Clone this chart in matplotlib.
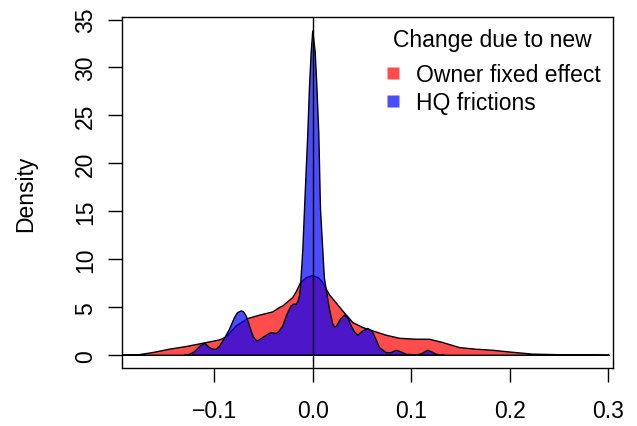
import numpy as np
import matplotlib
matplotlib.use("Agg")
import matplotlib.pyplot as plt
from matplotlib.lines import Line2D

plt.rcParams["font.family"] = ["Liberation Sans", "DejaVu Sans"]
plt.rcParams["font.size"] = 16.5

# densite "Owner fixed effect"
owner_x = [-0.1934, -0.1858, -0.1757, -0.1622, -0.1455, -0.1283, -0.1115, -0.0945,
           -0.0877, -0.0776, -0.0658, -0.0540, -0.0405, -0.0337, -0.0303, -0.0202,
           -0.0164, -0.0127, -0.0066, 0.0, 0.0059, 0.0099, 0.0137, 0.0170, 0.0221,
           0.0305, 0.0407, 0.0508, 0.0610, 0.0745, 0.0880, 0.1050, 0.1185, 0.1319,
           0.1489, 0.1658, 0.1827, 0.1996, 0.2229, 0.2571, 0.3010]
owner_y = [0.0, 0.02, 0.07, 0.28, 0.63, 0.91, 1.25, 1.60,
           1.91, 3.06, 3.83, 4.18, 4.52, 4.98, 5.15, 6.02,
           6.68, 7.50, 8.09, 8.30, 8.09, 7.62, 6.89, 6.31, 5.67,
           4.62, 3.41, 2.89, 2.54, 2.09, 1.77, 1.67, 1.67, 1.33,
           0.80, 0.63, 0.52, 0.34, 0.12, 0.04, 0.0]

# densite "HQ frictions"
hq_x = [-0.1300, -0.1249, -0.1199, -0.1148, -0.1097, -0.1047, -0.1016, -0.0979,
        -0.0945, -0.0912, -0.0877, -0.0844, -0.0793, -0.0763, -0.0725, -0.0702,
        -0.0674, -0.0624, -0.0600, -0.0567, -0.0540, -0.0506, -0.0438, -0.0408,
        -0.0370, -0.0337, -0.0303, -0.0276, -0.0253, -0.0218, -0.0195, -0.0167,
        -0.0149, -0.0134, -0.0124, -0.0117, -0.0109, -0.0100, -0.0083, -0.0050,
        -0.0032, -0.0015, 0.0001, 0.0025, 0.0042, 0.0062, 0.0079, 0.0102,
        0.0113, 0.0120, 0.0137, 0.0153, 0.0170, 0.0188, 0.0204, 0.0221,
        0.0238, 0.0255, 0.0282, 0.0323, 0.0356, 0.0390, 0.0424, 0.0457,
        0.0508, 0.0559, 0.0596, 0.0627, 0.0677, 0.0745, 0.0789, 0.0847,
        0.0890, 0.0948, 0.1050, 0.1103, 0.1167, 0.1215, 0.1253, 0.1337]
hq_y = [0.0, 0.10, 0.37, 0.91, 1.25, 0.80, 0.63, 0.63,
        0.94, 1.49, 2.09, 2.71, 3.94, 4.44, 4.62, 4.54,
        4.10, 2.54, 1.88, 1.49, 1.62, 1.85, 2.30, 2.35,
        2.27, 2.56, 3.06, 3.86, 4.46, 5.15, 5.32, 5.32,
        5.64, 6.19, 7.10, 8.28, 9.50, 11.06, 15.24, 23.07,
        28.11, 31.63, 33.85, 31.63, 28.11, 23.07, 15.24, 11.06,
        8.98, 7.93, 6.89, 5.85, 4.80, 3.97, 3.24, 2.97,
        3.00, 3.29, 3.76, 4.18, 3.94, 3.06, 2.45, 2.09,
        2.54, 2.79, 2.56, 2.01, 0.80, 0.28, 0.26, 0.52,
        0.37, 0.10, 0.03, 0.16, 0.52, 0.31, 0.10, 0.0]

x_ticks = [-0.1, 0.0, 0.1, 0.2, 0.3]
y_ticks = [0, 5, 10, 15, 20, 25, 30, 35]
labels = ["Owner fixed effect", "HQ frictions"]
legend_title = "Change due to new"
red = (1, 0, 0, 0.7)
blue = (0, 0, 1, 0.7)

fig = plt.figure(figsize=(6.37, 4.27), dpi=100)
ax = fig.add_axes([0.192, 0.1351, 0.7699, 0.8227])

ax.fill(owner_x, owner_y, facecolor=red, edgecolor="black", linewidth=1.0)
ax.fill(hq_x, hq_y, facecolor=blue, edgecolor="black", linewidth=1.0)
ax.axvline(0, color="black", linewidth=1.0)

ax.set_xlim(-0.1931, 0.3043)
ax.set_ylim(-1.36, 35.26)
ax.set_xticks(x_ticks)
ax.set_xticklabels([f"{v:.1f}".replace("-", "\u2212") for v in x_ticks])
ax.set_yticks(y_ticks)
ax.set_yticklabels([str(v) for v in y_ticks], rotation=90, va="center")
ax.tick_params(direction="out", length=10, width=1.0)
ax.tick_params(axis="x", pad=12)
ax.tick_params(axis="y", pad=8)
for s in ax.spines.values():
    s.set_linewidth(1.0)
ax.set_ylabel("Density")
ax.yaxis.set_label_coords(-0.198, 0.5)
ax.yaxis.label.set_va("center")

handles = [Line2D([], [], linestyle="none", marker="s", markersize=8,
                  markerfacecolor=c, markeredgecolor="none") for c in (red, blue)]
ax.legend(handles, labels, frameon=False,
          loc="upper right", bbox_to_anchor=(0.998, 0.903), borderpad=0,
          handlelength=0.8, handletextpad=0.6, labelspacing=0.25,
          fontsize=16.5)
ax.text(0.755, 0.935, legend_title, transform=ax.transAxes,
        ha="center", va="center")

fig.savefig("out.png", dpi=100)
